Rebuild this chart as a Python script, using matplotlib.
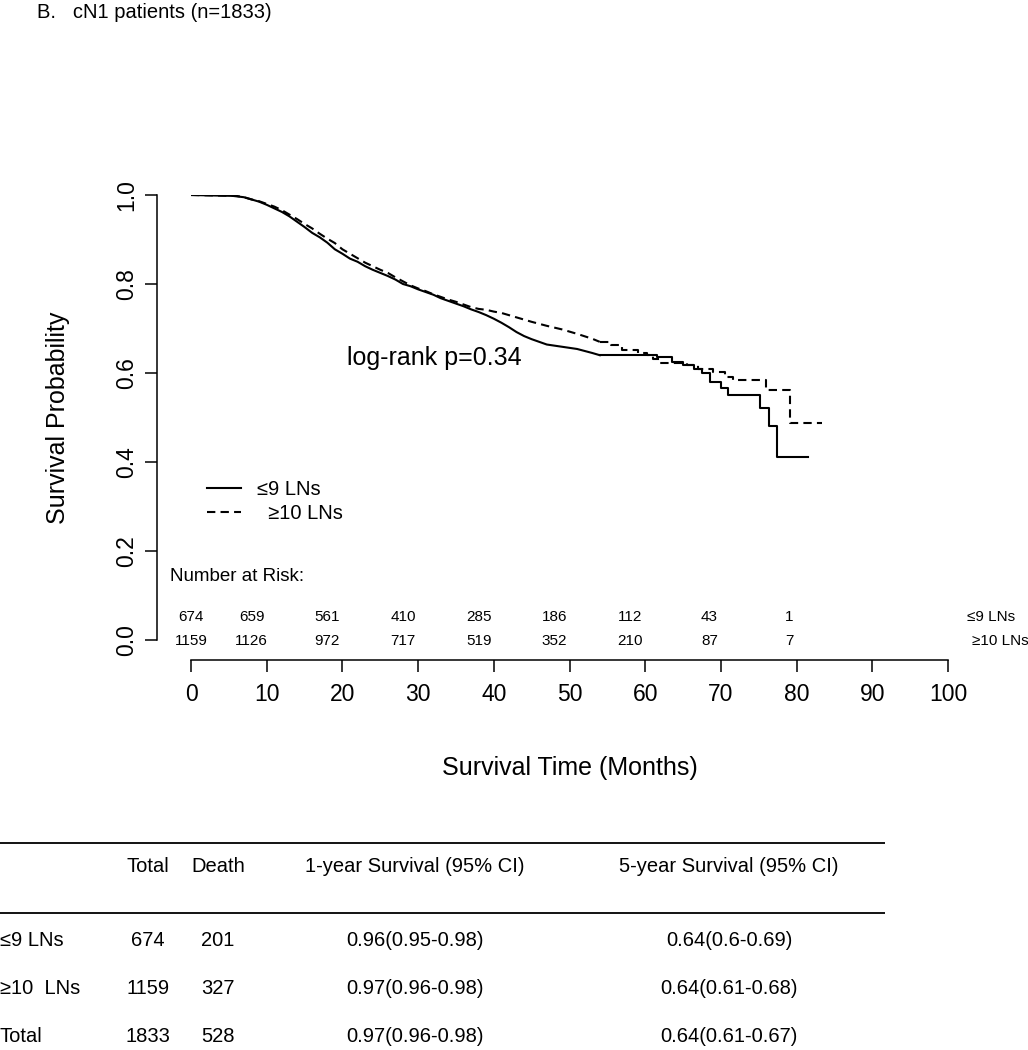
import matplotlib
matplotlib.use('Agg')
from matplotlib import pyplot as plt

plt.rcParams['font.family'] = ['Liberation Sans', 'DejaVu Sans']

# Kaplan-Meier curves (months, survival)
t_le9 = [0, 5.5, 7, 8, 9, 10, 11, 12, 13, 14, 15, 16, 17, 18, 19, 20, 21, 22, 23, 24, 25,
         26, 27, 28, 29, 30, 31, 32, 33, 34, 35, 36, 37, 38, 39, 40, 41, 42, 43, 44, 45,
         46, 47, 49, 51, 53, 54, 61.5, 63.5, 65, 66.5, 67.5, 68.5, 70, 71, 75.2, 76.4,
         77.4, 81.5]
s_le9 = [1.0, 0.998, 0.995, 0.99, 0.985, 0.978, 0.97, 0.962, 0.952, 0.94, 0.928, 0.915,
         0.905, 0.893, 0.878, 0.868, 0.857, 0.85, 0.84, 0.832, 0.825, 0.818, 0.81, 0.80,
         0.795, 0.788, 0.782, 0.776, 0.768, 0.762, 0.756, 0.75, 0.743, 0.737, 0.73, 0.722,
         0.713, 0.703, 0.692, 0.683, 0.676, 0.67, 0.664, 0.659, 0.654, 0.645, 0.64, 0.635,
         0.625, 0.618, 0.61, 0.60, 0.58, 0.567, 0.551, 0.521, 0.481, 0.411, 0.411]

t_ge10 = [0, 6, 7, 8, 9, 10, 11, 12, 13, 14, 15, 16, 17, 18, 19, 20, 21, 22, 23, 24, 25,
          26, 27, 28, 29, 30, 31, 32, 33, 34, 35, 36, 37, 38, 39, 40, 41, 43, 45, 47, 49,
          51, 53, 54, 55.5, 57, 59, 60.2, 61, 62, 65.5, 67, 69, 70.5, 71.6, 76, 79.1, 83.4]
s_ge10 = [1.0, 0.998, 0.995, 0.99, 0.986, 0.98, 0.974, 0.966, 0.956, 0.946, 0.935, 0.925,
          0.913, 0.902, 0.892, 0.878, 0.868, 0.858, 0.848, 0.84, 0.832, 0.825, 0.815, 0.806,
          0.797, 0.79, 0.784, 0.777, 0.771, 0.765, 0.76, 0.754, 0.748, 0.744, 0.742, 0.738,
          0.735, 0.725, 0.715, 0.706, 0.698, 0.688, 0.677, 0.670, 0.662, 0.652, 0.645, 0.64,
          0.632, 0.623, 0.618, 0.61, 0.602, 0.592, 0.584, 0.562, 0.488, 0.488]

# before this time the steps are too fine to see, so join the read points directly
dense_until = 54

# number at risk
risk_times = [0, 8, 18, 28, 38, 48, 58, 68.5, 79]
risk_le9 = [674, 659, 561, 410, 285, 186, 112, 43, 1]
risk_ge10 = [1159, 1126, 972, 717, 519, 352, 210, 87, 7]

# summary table
tbl_groups = ['≤9 LNs', '≥10  LNs', 'Total']
tbl_total = [674, 1159, 1833]
tbl_death = [201, 327, 528]
tbl_1yr = ['0.96(0.95-0.98)', '0.97(0.96-0.98)', '0.97(0.96-0.98)']
tbl_5yr = ['0.64(0.6-0.69)', '0.64(0.61-0.68)', '0.64(0.61-0.67)']

W, H = 1028, 1050
fig = plt.figure(figsize=(W / 100, H / 100), dpi=100)

# overlay in pixel coordinates for title and table
ax_t = fig.add_axes([0, 0, 1, 1])
ax_t.set_xlim(0, W)
ax_t.set_ylim(H, 0)
ax_t.axis('off')

ax = fig.add_axes([191 / W, 410 / H, 757 / W, 445 / H])


def km_plot(t, s, ls, label):
    k = t.index(dense_until)
    ax.plot(t[:k + 1], s[:k + 1], color='black', lw=1.5, linestyle=ls,
            solid_joinstyle='miter', label=label)
    ax.plot(t[k:], s[k:], color='black', lw=1.5, linestyle=ls, drawstyle='steps-post')


km_plot(t_le9, s_le9, '-', '≤9 LNs')
km_plot(t_ge10, s_ge10, (0, (4, 2.5)), '  ≥10 LNs')
ax.set_xlim(0, 100)
ax.set_ylim(0, 1)
ax.patch.set_visible(False)

for side in ['top', 'right']:
    ax.spines[side].set_visible(False)
ax.spines['left'].set_position(('outward', 24.5))
ax.spines['bottom'].set_position(('outward', 14.4))
ax.spines['left'].set_bounds(0, 1)
ax.spines['bottom'].set_bounds(0, 100)
ax.spines['left'].set_linewidth(1.1)
ax.spines['bottom'].set_linewidth(1.1)

ax.set_xticks(range(0, 101, 10))
ax.set_yticks([0, 0.2, 0.4, 0.6, 0.8, 1.0])
ax.set_yticklabels(['0.0', '0.2', '0.4', '0.6', '0.8', '1.0'], rotation=90, va='center')
ax.tick_params(axis='both', length=8.6, width=1.1, labelsize=16.5)
ax.tick_params(axis='x', pad=8)
ax.tick_params(axis='y', pad=5)

ax.set_xlabel('Survival Time (Months)', fontsize=18)
ax.set_ylabel('Survival Probability', fontsize=18)
ax.xaxis.label.set_va('center')
ax.yaxis.label.set_va('center')
ax.xaxis.set_label_coords(0.5, (640 - 768) / 445)
ax.yaxis.set_label_coords((58 - 191) / 757, 0.5)

ax.text(32.2, 0.634, 'log-rank p=0.34', fontsize=18, ha='center', va='center')

ax.legend(loc='upper left', bbox_to_anchor=(0.0105, 0.378), frameon=False, fontsize=14.5,
          handlelength=1.7, handletextpad=0.8, labelspacing=0.28, borderaxespad=0)

ax.text(-2.8, 0.142, 'Number at Risk:', fontsize=13.5, ha='left', va='center')
for x, a, b in zip(risk_times, risk_le9, risk_ge10):
    ax.text(x, 0.052, str(a), fontsize=11, ha='center', va='center')
    ax.text(x, -0.002, str(b), fontsize=11, ha='center', va='center')
ax.text(102.5, 0.052, '≤9 LNs', fontsize=11, ha='left', va='center', clip_on=False)
ax.text(103.2, -0.002, '≥10 LNs', fontsize=11, ha='left', va='center', clip_on=False)

ax_t.text(37, 13, 'B.   cN1 patients (n=1833)', fontsize=14.5, ha='left', va='center')

# table
ax_t.hlines([843, 913], 0, 885, color='black', lw=1.3)
col_x = [148, 218, 415, 729]
headers = ['Total', 'Death', '1-year Survival (95% CI)', '5-year Survival (95% CI)']
for x, h in zip(col_x, headers):
    ax_t.text(x, 866, h, fontsize=14.5, ha='center', va='center')
row_y = [940, 988, 1036]
for y, g, n, d, a, b in zip(row_y, tbl_groups, tbl_total, tbl_death, tbl_1yr, tbl_5yr):
    ax_t.text(0, y, g, fontsize=14.5, ha='left', va='center')
    for x, v in zip(col_x, [n, d, a, b]):
        ax_t.text(x, y, str(v), fontsize=14.5, ha='center', va='center')

fig.savefig('out.png', dpi=100)
